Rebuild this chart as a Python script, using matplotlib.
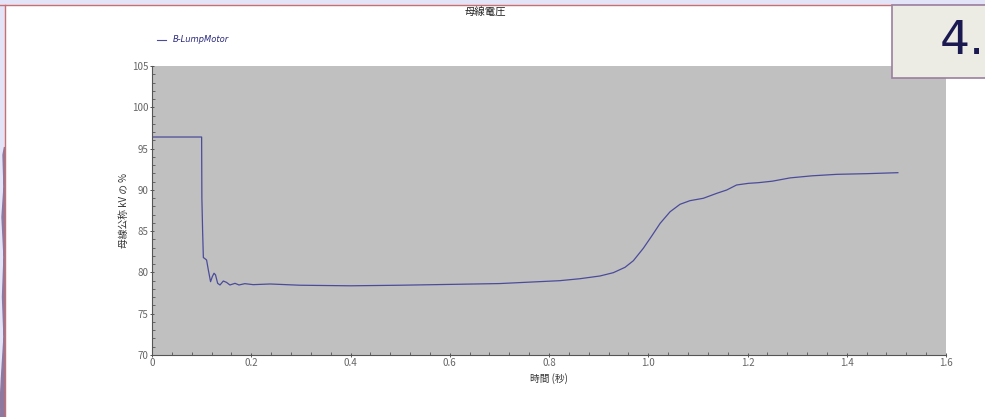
import matplotlib
matplotlib.use("Agg")
import matplotlib.pyplot as plt
from matplotlib.patches import Rectangle, Polygon
from matplotlib.lines import Line2D
from matplotlib.ticker import MultipleLocator, FuncFormatter

plt.rcParams['font.family'] = ['Noto Sans CJK JP', 'DejaVu Sans']

title = "母線電圧"
series_name = "B-LumpMotor"
xlabel = "時間 (秒)"
ylabel = "母線公称 kV の %"

time_s = [0.0, 0.1, 0.1005, 0.102, 0.1035, 0.106, 0.110, 0.1135, 0.118, 0.1216,
          0.125, 0.128, 0.1323, 0.137, 0.1437, 0.150, 0.157, 0.1673, 0.1753, 0.187,
          0.204, 0.238, 0.298, 0.40, 0.50, 0.60, 0.70, 0.8215, 0.8625, 0.9028,
          0.9296, 0.9532, 0.970, 0.990, 1.007, 1.024, 1.044, 1.064, 1.084, 1.111,
          1.138, 1.158, 1.178, 1.202, 1.222, 1.25, 1.286, 1.33, 1.38, 1.44, 1.503]
voltage = [96.4, 96.4, 89.0, 85.0, 81.8, 81.7, 81.5, 80.3, 78.88, 79.5,
           79.9, 79.7, 78.68, 78.48, 78.96, 78.8, 78.48, 78.68, 78.48, 78.64,
           78.52, 78.6, 78.45, 78.38, 78.45, 78.55, 78.65, 79.0, 79.24, 79.57,
           79.97, 80.62, 81.42, 82.92, 84.41, 85.95, 87.35, 88.25, 88.69, 88.98,
           89.58, 89.98, 90.59, 90.79, 90.87, 91.05, 91.45, 91.7, 91.88, 91.96, 92.08]

W, H = 985, 417
fig = plt.figure(figsize=(W/100, H/100), dpi=100)
fig.patch.set_facecolor('white')

# frame decorations
fig.add_artist(Rectangle((0, 1 - 4/H), 1, 4/H, transform=fig.transFigure, color='#e4e4f8', zorder=0))
fig.add_artist(Rectangle((0, 0), 4/W, 1, transform=fig.transFigure, color='#e4e4f8', zorder=0))
fig.add_artist(Polygon([(0, 0), (4.5/W, 0), (4.5/W, 270/H), (3/W, 262/H), (4/W, 230/H),
                        (2/W, 200/H), (4/W, 160/H), (2.5/W, 120/H), (4/W, 80/H), (1.5/W, 40/H), (0.5/W, 20/H)],
                       closed=True, transform=fig.transFigure, color='#8f78a0', zorder=0))
fig.add_artist(Line2D([0, 1], [1 - 4.5/H]*2, transform=fig.transFigure, color='#c87070', lw=1))
fig.add_artist(Line2D([4.5/W]*2, [0, 1 - 4.5/H], transform=fig.transFigure, color='#c87070', lw=1))

ax = fig.add_axes([152/W, 1 - 355/H, (946-152)/W, (355-66)/H])
ax.set_facecolor('#c0c0c0')
ax.plot(time_s, voltage, color='#4b4b9b', lw=0.9)
ax.set_xlim(0, 1.6)
ax.set_ylim(70, 105)
ax.xaxis.set_major_locator(MultipleLocator(0.2))
ax.xaxis.set_minor_locator(MultipleLocator(0.04))
ax.yaxis.set_major_locator(MultipleLocator(5))
ax.yaxis.set_minor_locator(MultipleLocator(1))
ax.xaxis.set_major_formatter(FuncFormatter(lambda v, p: "0" if abs(v) < 1e-9 else f"{v:.1f}"))
ax.yaxis.set_major_formatter(FuncFormatter(lambda v, p: f"{v:.0f}"))
for s in ['top', 'right']:
    ax.spines[s].set_visible(False)
for s in ['left', 'bottom']:
    ax.spines[s].set_color('#555555')
    ax.spines[s].set_linewidth(0.8)
ax.tick_params(axis='both', which='major', labelsize=7, colors='#555555', labelcolor='#666666',
               length=3, width=0.7, direction='inout', pad=1)
ax.tick_params(axis='both', which='minor', colors='#555555', length=2, width=0.6, direction='in')

ax.set_xlabel(xlabel, fontsize=7, color='#333333', labelpad=3)
ax.set_ylabel(ylabel, fontsize=7, color='#333333', labelpad=2)

fig.text(485/W, 1 - 12/H, title, ha='center', va='center', fontsize=7.5, color='#222222')

# legend
fig.add_artist(Line2D([157/W, 166/W], [1 - 40/H]*2, transform=fig.transFigure, color='#4b4b9b', lw=0.8))
fig.text(173/W, 1 - 40/H, series_name, ha='left', va='center', fontsize=6, style='italic',
         color='#2a2a80', family=['DejaVu Sans'])

# "4." box
fig.add_artist(Rectangle((892/W, 1 - 78/H), (W-892)/W + 0.01, 73/H, transform=fig.transFigure,
                         facecolor='#ecebe4', edgecolor='#9a7fa0', lw=1.2, zorder=5))
fig.text(940/W, 1 - 42/H, "4.", ha='left', va='center', fontsize=34, color='#1a1a50', zorder=6,
         family=['DejaVu Sans'])

fig.savefig('out.png', dpi=100)
